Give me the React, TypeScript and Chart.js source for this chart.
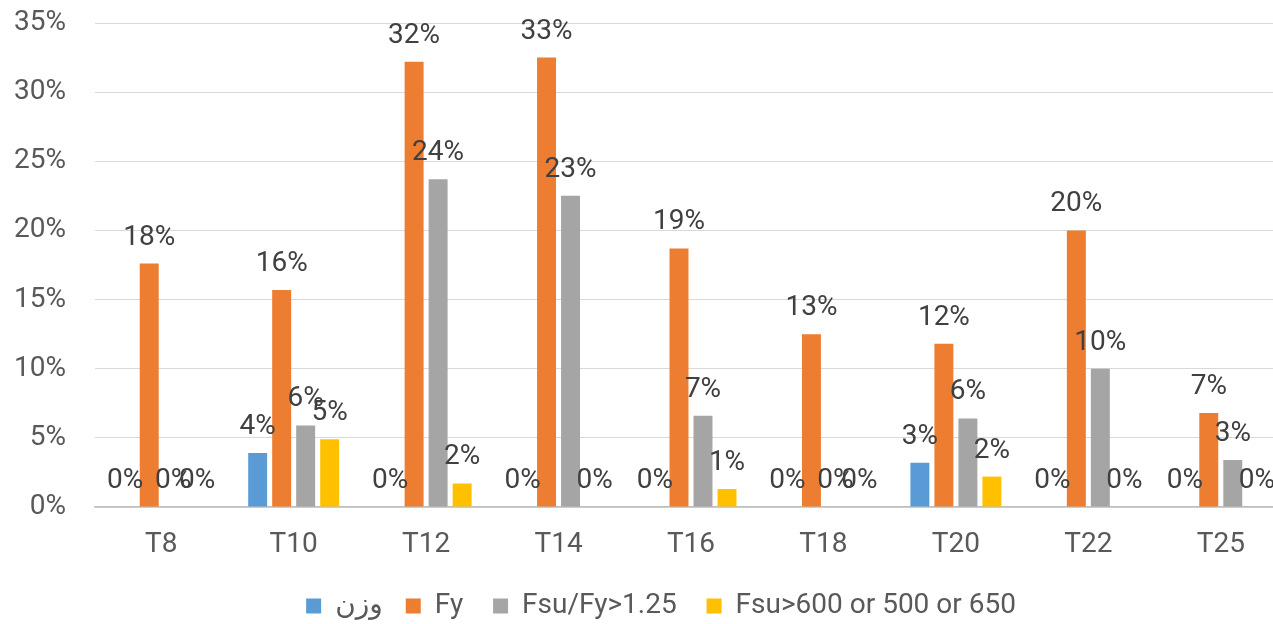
import React, { useEffect, useRef } from "react";
import { Chart, registerables } from "chart.js";

Chart.register(...registerables);

const categories = ["T8", "T10", "T12", "T14", "T16", "T18", "T20", "T22", "T25"];
const seriesNames = ["وزن", "Fy", "Fsu/Fy>1.25", "Fsu>600 or 500 or 650"];
const wazn = [0, 0.039, 0, 0, 0, 0, 0.032, 0, 0];
const fy = [0.176, 0.157, 0.322, 0.325, 0.187, 0.125, 0.118, 0.2, 0.068];
const fsuFy = [0, 0.059, 0.237, 0.225, 0.066, 0, 0.064, 0.1, 0.034];
const fsu600 = [0, 0.049, 0.017, 0, 0.013, 0, 0.022, 0, 0];
const colors = ["#5B9BD5", "#ED7D31", "#A5A5A5", "#FFC000"];
const yTicks = [0, 0.05, 0.1, 0.15, 0.2, 0.25, 0.3, 0.35];

const FONT = "Roboto, 'DejaVu Sans', sans-serif";
const FS = 28;

const labelPlugin = {
  id: "barLabels",
  afterDatasetsDraw(chart: any) {
    const ctx = chart.ctx;
    ctx.save();
    ctx.font = `${FS}px ${FONT}`;
    ctx.fillStyle = "#404040";
    ctx.textAlign = "center";
    ctx.textBaseline = "middle";
    chart.data.datasets.forEach((ds: any, i: number) => {
      const meta = chart.getDatasetMeta(i);
      meta.data.forEach((bar: any, j: number) => {
        const v = ds.data[j];
        const txt = Math.round(v * 100) + "%";
        ctx.fillText(txt, bar.x, bar.y - 26);
      });
    });
    ctx.restore();
  },
};

const legendShift = {
  id: "legendShift",
  afterLayout(chart: any) {
    const lg = chart.legend;
    if (!lg) return;
    lg.left += 21;
    lg.right += 21;
    lg.top += 6;
    lg.bottom += 6;
  },
};

export default function App() {
  const ref = useRef<HTMLCanvasElement | null>(null);
  useEffect(() => {
    document.body.style.margin = "0";
    document.body.style.overflow = "hidden";
    const data = [wazn, fy, fsuFy, fsu600];
    const chart = new Chart(ref.current as HTMLCanvasElement, {
      type: "bar",
      data: {
        labels: categories,
        datasets: seriesNames.map((n, i) => ({
          label: n,
          data: data[i],
          backgroundColor: colors[i],
          barPercentage: 0.79,
          categoryPercentage: 0.725,
        })),
      },
      options: {
        animation: false,
        responsive: false,
        layout: { padding: { left: 0, right: 2, top: 23, bottom: 0 } },
        plugins: {
          legend: {
            position: "bottom",
            labels: {
              boxWidth: 15,
              boxHeight: 15,
              padding: 23,
              color: "#595959",
              font: { size: FS, family: FONT, lineHeight: 1 },
              generateLabels: (c: any) =>
                Chart.defaults.plugins.legend.labels
                  .generateLabels(c)
                  .map((it: any, i: number) => ({ ...it, text: i === 0 ? it.text : it.text + "\u00A0" })),
            },
          },
          tooltip: { enabled: false },
        },
        scales: {
          x: {
            grid: { display: false, drawTicks: false },
            border: { display: true, color: "#BFBFBF", width: 1.5 },
            ticks: { color: "#595959", font: { size: FS, family: FONT, lineHeight: 1 }, padding: 24 },
            afterFit: (s: any) => {
              s.height = 56;
            },
          },
          y: {
            min: 0,
            max: 0.35,
            afterBuildTicks: (s: any) => {
              s.ticks = yTicks.map((v) => ({ value: v }));
            },
            grid: {
              color: "#D9D9D9",
              lineWidth: 1,
              drawTicks: false,
            },
            border: { display: false },
            ticks: {
              color: "#595959",
              font: { size: FS, family: FONT },
              padding: 29,
              callback: (v: any) => Math.round(Number(v) * 100) + "%",
            },
            afterFit: (s: any) => {
              s.width = 95;
              s.paddingTop = 0;
              s.paddingBottom = 0;
            },
          },
        },
      },
      plugins: [labelPlugin, legendShift],
    });
    return () => chart.destroy();
  }, []);
  return (
    <div style={{ width: 1289, height: 624, overflow: "hidden" }}>
      <canvas ref={ref} width={1289} height={624} />
    </div>
  );
}
